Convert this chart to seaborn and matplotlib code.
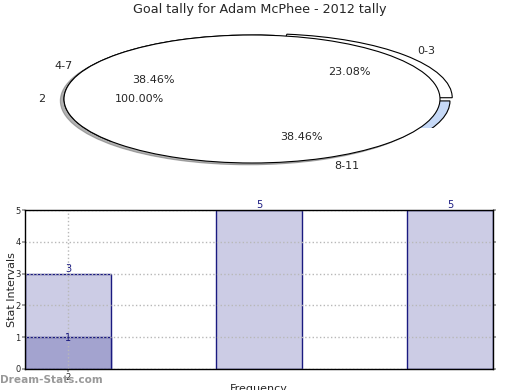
import matplotlib
matplotlib.use("Agg")
import matplotlib.pyplot as plt
from matplotlib.path import Path
import seaborn as sns

sns.set_theme(style="white")
plt.rcParams["font.family"] = ["DejaVu Sans"]

# data
interval_labels = ["0-3", "4-7", "8-11"]
interval_tally = [3, 5, 5]
single_labels = ["2"]
single_tally = [1]
single_slot = ["0-3"]

title = "Goal tally for Adam McPhee - 2012 tally"

fig = plt.figure(figsize=(5.2, 3.9), dpi=100)

# pie panel (drawn squashed into an ellipse)
ax_pie = fig.add_axes([0, 200 / 390, 1, 170 / 390])
wedge_style = dict(edgecolor="black", linewidth=0.8)
text_style = dict(fontsize=8)
wedges, _, _ = ax_pie.pie(interval_tally, labels=interval_labels,
                          autopct="%.2f%%", startangle=0, radius=1.06,
                          center=(0.04, 0),
                          colors=["white", "white", "#c6d9f7"],
                          wedgeprops=wedge_style, textprops=text_style,
                          labeldistance=1.06, pctdistance=0.6)
ax_pie.pie(single_tally, labels=single_labels, autopct="%.2f%%",
           startangle=0, colors=["white"],
           shadow=dict(ox=-0.014, oy=-0.02, shade=0.6),
           wedgeprops=wedge_style, textprops=text_style,
           labeldistance=1.1, pctdistance=0.6)
ax_pie.set_aspect("auto")
ax_pie.set_xlim(-252 / 188, 268 / 188)
ax_pie.set_ylim(-91 / 64, 79 / 64)
ax_pie.axis("off")

# the first pie sits behind the second one and only peeks out on the right
wedges[0].set_center((0.065, 0.02))
wedges[0].set_radius(1.0)
wedges[1].set_center((0, 0))
wedges[1].set_radius(1.0)
wedges[2].set_center((0.053, -0.03))
wedges[2].set_radius(1.0)
clip = Path([(-3, -0.45), (3, -0.45), (3, 3), (-3, 3), (-3, -0.45)], closed=True)
wedges[2].set_clip_on(True)
wedges[2].set_clip_path(clip, ax_pie.transData)

fig.text(0.5, 1 - 10 / 390, title, ha="center", va="center", fontsize=9.2)

# bar panel
ax = fig.add_axes([25 / 520, 21 / 390, 468 / 520, 159 / 390])
sns.barplot(x=interval_labels, y=interval_tally, order=interval_labels,
            width=0.45, color="#ccccE5", saturation=1,
            edgecolor="#1a1a80", linewidth=1, ax=ax)
sns.barplot(x=single_slot, y=single_tally, order=interval_labels,
            width=0.45, color="#a3a3cf", saturation=1,
            edgecolor="#1a1a80", linewidth=1, ax=ax)

ax.bar_label(ax.containers[0], labels=[str(v) for v in interval_tally],
             padding=0, fontsize=7, color="#1a1a80")
ax.bar_label(ax.containers[1], labels=[str(v) for v in single_tally],
             padding=-4, fontsize=7, color="#1a1a80")

ax.set_xlim(-0.225, 2.225)
ax.set_ylim(0, 5)
ax.set_xticks([0])
ax.set_xticklabels(single_labels)
ax.set_yticks(range(6))
ax.grid(True, linestyle=":", color="#b8b8b8", linewidth=1)
ax.set_axisbelow(False)
for s in ax.spines.values():
    s.set_color("black")
    s.set_linewidth(1)
    s.set_zorder(5)
ax.tick_params(axis="y", left=True, right=True, direction="out", length=2,
               color="#999999", labelsize=6, pad=1)
ax.tick_params(axis="x", bottom=True, direction="out", length=2,
               color="#999999", labelsize=6, pad=1)
ax.set_xlabel("Frequency", fontsize=8, labelpad=1)
ax.set_ylabel("Stat Intervals", fontsize=8, labelpad=-1)

fig.text(0.0, 1 - 380 / 390, "Dream-Stats.com", fontsize=7.6, color="#999999",
         fontweight="bold", va="center", ha="left")

fig.savefig("out.png", dpi=100)
